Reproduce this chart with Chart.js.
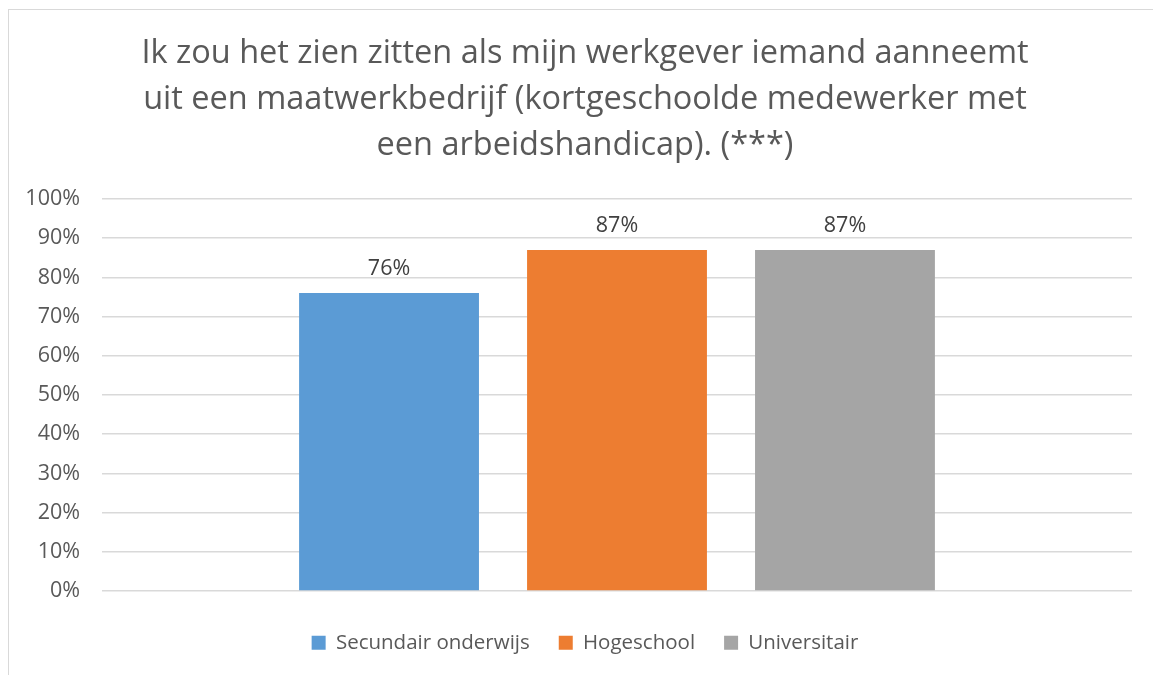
<!DOCTYPE html>
<html>
<head>
<meta charset="utf-8">
<script src="https://cdn.jsdelivr.net/npm/chart.js@4"></script>
<style>
  html, body { margin: 0; background: #fff; overflow: hidden; }
  #box { position: absolute; left: 8px; top: 9px; border: 1px solid #d9d9d9; background: #fff; }
  canvas { display: block; }
</style>
</head>
<body>
<div id="box"><canvas id="chart" width="1152" height="680"></canvas></div>
<script>
/* ── Data ───────────────────────────────────────── */
const titleLines = [
  'Ik zou het zien zitten als mijn werkgever iemand aanneemt',
  'uit een maatwerkbedrijf (kortgeschoolde medewerker met',
  'een arbeidshandicap). (***)'
];
const categories   = [''];
const seriesNames  = ['Secundair onderwijs', 'Hogeschool', 'Universitair'];
const seriesValues = [[76], [87], [87]];
const seriesColors = ['#5B9BD5', '#ED7D31', '#A5A5A5'];
const yMin = 0, yMax = 100, yStep = 10;

Chart.defaults.font.family = '"Open Sans", sans-serif';
Chart.defaults.color = '#595959';

/* ── Value labels above bars ────────────────────── */
const barLabels = {
  id: 'barLabels',
  afterDatasetsDraw(chart) {
    const ctx = chart.ctx;
    ctx.save();
    ctx.font = '21.5px "Open Sans", sans-serif';
    ctx.fillStyle = '#404040';
    ctx.textAlign = 'center';
    ctx.textBaseline = 'alphabetic';
    chart.data.datasets.forEach((ds, i) => {
      chart.getDatasetMeta(i).data.forEach((bar, j) => {
        ctx.fillText(ds.data[j] + '%', bar.x, bar.y - 18);
      });
    });
    ctx.restore();
  }
};

/* ── Chart ──────────────────────────────────────── */
new Chart(document.getElementById('chart'), {
  type: 'bar',
  data: {
    labels: categories,
    datasets: seriesNames.map((name, i) => ({
      label: name,
      data: seriesValues[i],
      backgroundColor: seriesColors[i],
      borderWidth: 0,
      yAxisID: 'y',
      categoryPercentage: 0.664,
      barPercentage: 0.789
    }))
  },
  options: {
    responsive: false,
    animation: false,
    layout: { padding: { top: 10, left: 10, right: 10, bottom: 27 } },
    plugins: {
      title: {
        display: true,
        text: titleLines,
        color: '#595959',
        font: { size: 32.5, weight: 'normal', lineHeight: 46 / 32.5 },
        padding: { top: 11, bottom: 30 }
      },
      legend: {
        position: 'bottom',
        labels: { boxWidth: 14, boxHeight: 14, padding: 29, color: '#595959', font: { size: 20.5 } }
      },
      tooltip: { enabled: false }
    },
    scales: {
      x: {
        ticks: { display: false },
        grid: { display: false },
        border: { display: false },
        afterFit: s => { s.height = 12.5; }
      },
      y: {
        min: yMin, max: yMax,
        ticks: { stepSize: yStep, padding: 22, color: '#595959', font: { size: 21.5 }, callback: v => v + '%' },
        grid: { color: '#d9d9d9', lineWidth: 1.5, drawTicks: false },
        border: { display: false },
        afterFit: s => { s.width = 83; }
      },
      y2: {
        position: 'right',
        ticks: { display: false },
        grid: { display: false },
        border: { display: false },
        afterFit: s => { s.width = 19; }
      }
    }
  },
  plugins: [barLabels]
});
</script>
</body>
</html>
